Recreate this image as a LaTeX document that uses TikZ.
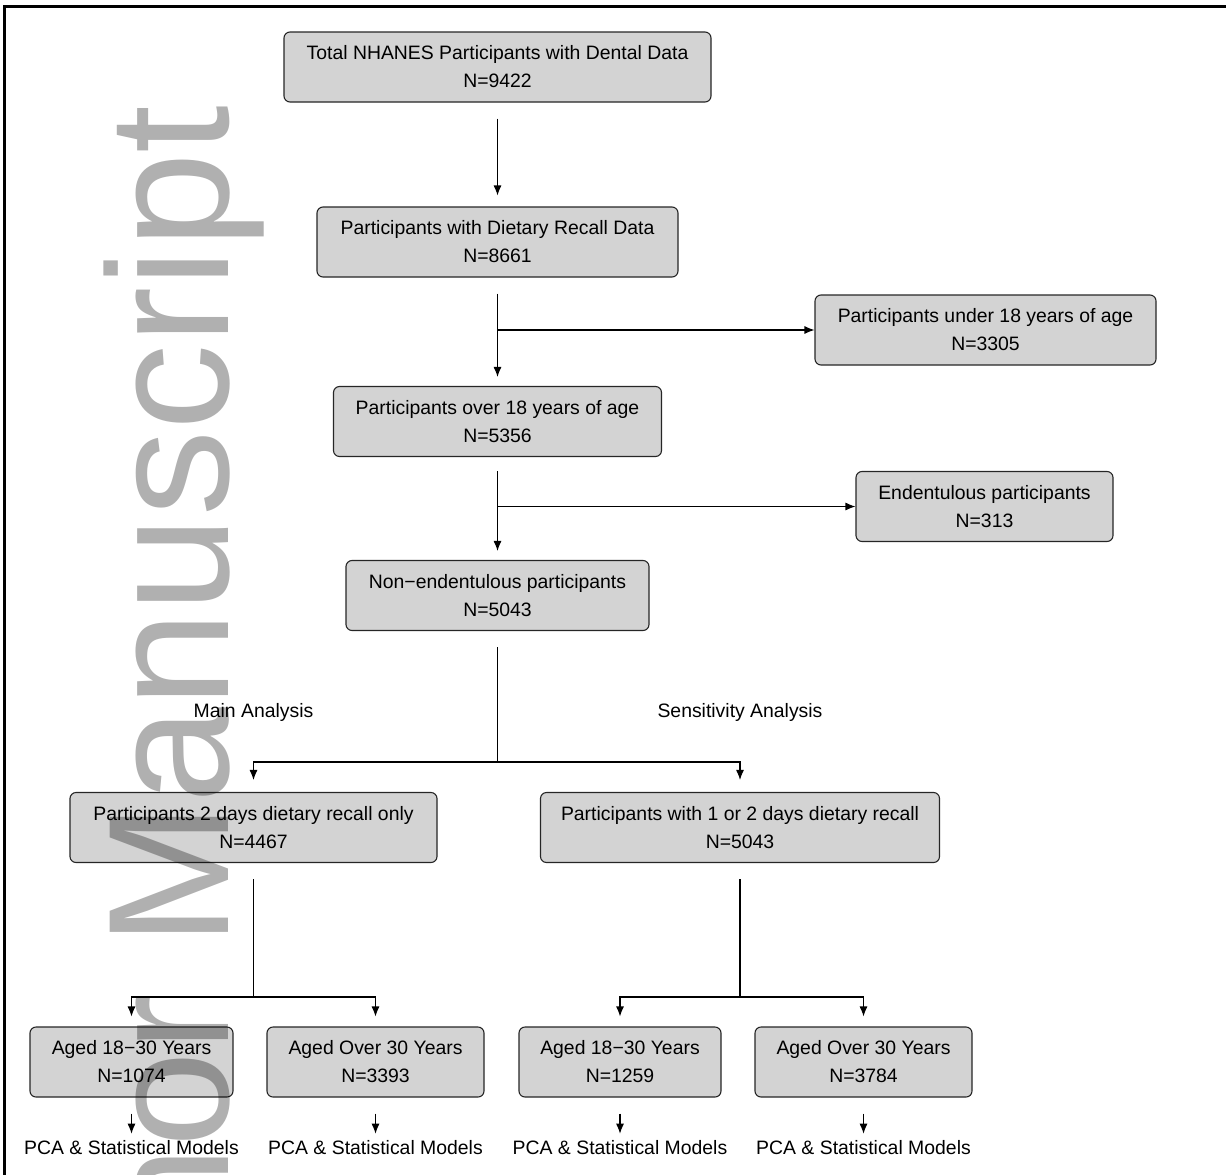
\documentclass[tikz,border=0pt]{standalone}
\usepackage{fontspec}
\setmainfont{Liberation Sans}
\usetikzlibrary{arrows.meta}
\definecolor{boxgray}{HTML}{D3D3D3}

\begin{document}
\begin{tikzpicture}[x=1pt, y=-1pt,
    box/.style={draw=black!85, fill=boxgray, rounded corners=6pt, line width=1.1pt,
      align=center, inner sep=0pt, minimum height=70pt,
      font=\fontsize{19.4}{28}\selectfont},
    lbl/.style={inner sep=0pt, font=\fontsize{19.4}{23}\selectfont},
    arr/.style={-{Latex[length=10pt, width=8pt]}, line width=1.1pt},
    link/.style={line width=1.1pt}]
  \useasboundingbox (0,0) rectangle (1226,1175);
  % page frame, open at the right and the bottom
  \draw[line width=2.5pt] (4.5,1175) -- (4.5,6.5) -- (1226,6.5);
  % the selection chain
  \node[box, minimum width=427pt] (total) at (497.5,67)
    {Total NHANES Participants with Dental Data\\N=9422};
  \node[box, minimum width=361pt] (recall) at (497.5,242)
    {Participants with Dietary Recall Data\\N=8661};
  \node[box, minimum width=341pt] (under) at (985.5,330)
    {Participants under 18 years of age\\N=3305};
  \node[box, minimum width=328pt] (over) at (497.5,421.5)
    {Participants over 18 years of age\\N=5356};
  \node[box, minimum width=257pt] (edent) at (984.5,506.5)
    {Endentulous participants\\N=313};
  \node[box, minimum width=303pt] (nonedent) at (497.5,595.5)
    {Non−endentulous participants\\N=5043};
  \draw[arr, shorten <=16pt, shorten >=11pt] (total) -- (recall);
  \coordinate (j1) at (recall.south |- under.west);
  \draw[link, shorten <=16pt] (recall.south) -- (j1);
  \draw[arr, shorten >=9pt] (j1) -- (over.north);
  \draw[arr] (j1) -- (under.west);
  \coordinate (j2) at (over.south |- edent.west);
  \draw[link, shorten <=14pt] (over.south) -- (j2);
  \draw[arr, shorten >=9pt] (j2) -- (nonedent.north);
  \draw[arr] (j2) -- (edent.west);
  % the two analyses
  \node[lbl] (mainlbl) at (253.5,712) {Main Analysis};
  \node[lbl] (senslbl) at (740,712) {Sensitivity Analysis};
  \node[box, minimum width=367pt] (twoday) at (253.5,827.5)
    {Participants 2 days dietary recall only\\N=4467};
  \node[box, minimum width=399pt] (oneortwo) at (740,827.5)
    {Participants with 1 or 2 days dietary recall\\N=5043};
  \coordinate (s1) at (497.5,762);
  \draw[link, shorten <=16pt] (nonedent.south) -- (s1);
  \draw[arr, shorten >=12pt] (s1) -| (twoday.north);
  \draw[arr, shorten >=12pt] (s1) -| (oneortwo.north);
  % age groups and what was done with them
  \foreach \i/\x/\w/\t/\n in {1/131.5/203/Aged 18−30 Years/1074,
                               2/375.5/217/Aged Over 30 Years/3393,
                               3/620/202/Aged 18−30 Years/1259,
                               4/863.5/217/Aged Over 30 Years/3784} {
    \node[box, minimum width=\w pt] (age\i) at (\x,1062) {\t\\N=\n};
    \node[lbl] (pca\i) at (\x,1148) {PCA \& Statistical Models};
    \draw[arr, shorten <=16pt, shorten >=7pt] (age\i) -- (pca\i);
  }
  \coordinate (s2) at (twoday.south |- 0,997);
  \coordinate (s3) at (oneortwo.south |- 0,997);
  \draw[link, shorten <=16pt] (twoday.south) -- (s2);
  \draw[link, shorten <=16pt] (oneortwo.south) -- (s3);
  \draw[arr, shorten >=10pt] (s2) -| (age1.north);
  \draw[arr, shorten >=10pt] (s2) -| (age2.north);
  \draw[arr, shorten >=10pt] (s3) -| (age3.north);
  \draw[arr, shorten >=10pt] (s3) -| (age4.north);
  % watermark over the whole figure
  \node[rotate=90, anchor=base east, inner sep=0pt, opacity=0.31,
    font=\fontsize{172}{172}\selectfont] (mark) at (228,105) {Author Manuscript};
\end{tikzpicture}
\end{document}
